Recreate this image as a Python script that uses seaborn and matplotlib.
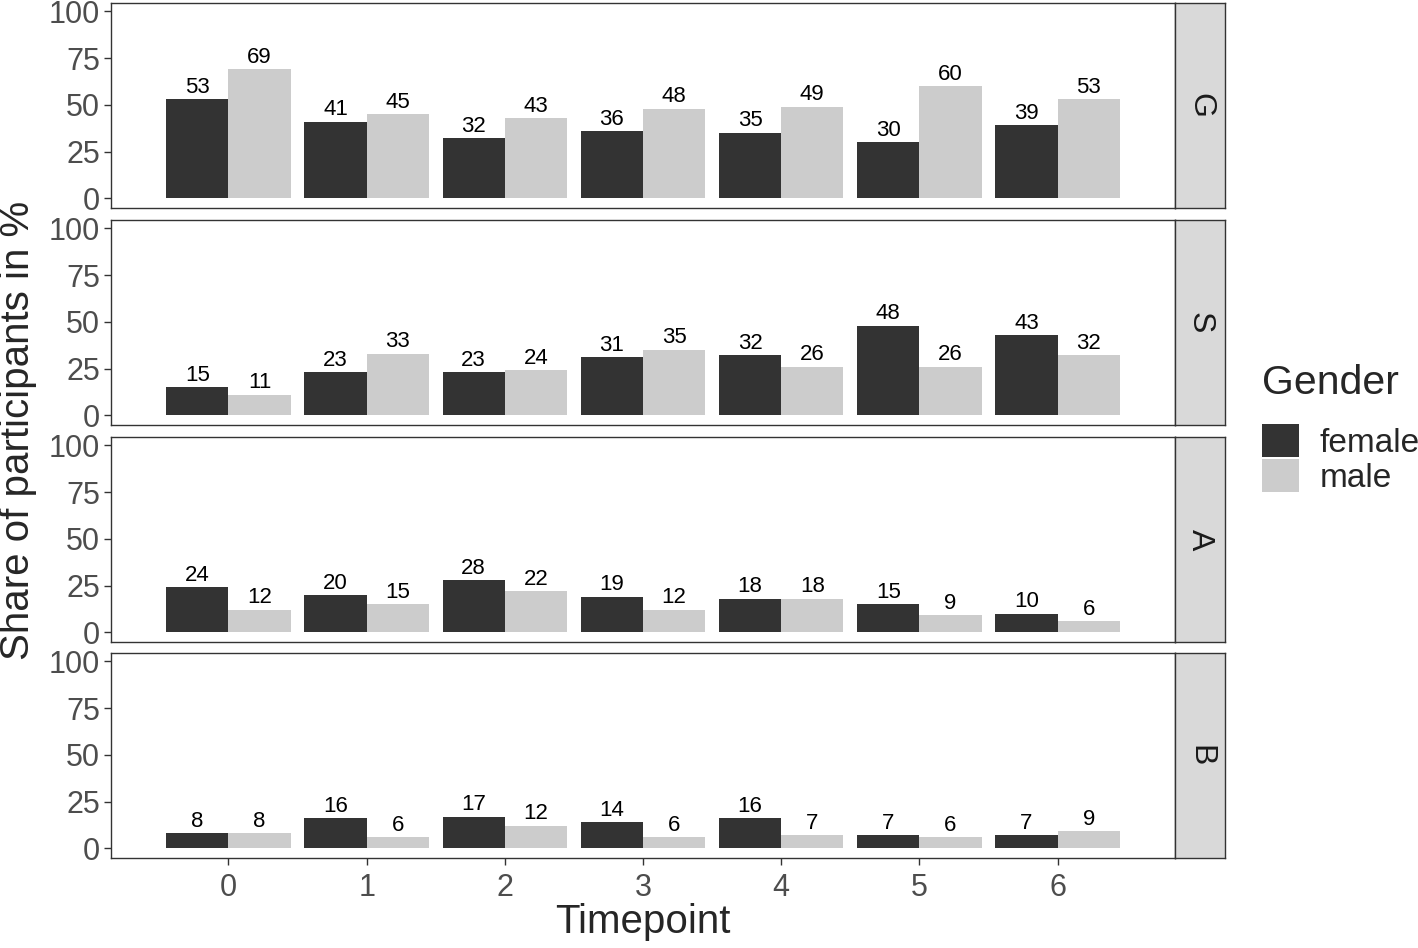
import numpy as np
import pandas as pd
import matplotlib
matplotlib.use("Agg")
import matplotlib.pyplot as plt
from matplotlib.patches import Patch
import seaborn as sns

# data
timepoints = ["0", "1", "2", "3", "4", "5", "6"]
panels = ["G", "S", "A", "B"]
genders = ["female", "male"]

g_female = [53, 41, 32, 36, 35, 30, 39]
g_male = [69, 45, 43, 48, 49, 60, 53]
s_female = [15, 23, 23, 31, 32, 48, 43]
s_male = [11, 33, 24, 35, 26, 26, 32]
a_female = [24, 20, 28, 19, 18, 15, 10]
a_male = [12, 15, 22, 12, 18, 9, 6]
b_female = [8, 16, 17, 14, 16, 7, 7]
b_male = [8, 6, 12, 6, 7, 6, 9]

values = {
    "G": (g_female, g_male),
    "S": (s_female, s_male),
    "A": (a_female, a_male),
    "B": (b_female, b_male),
}

rows = []
for p in panels:
    fem, mal = values[p]
    for t, f, m in zip(timepoints, fem, mal):
        rows.append({"panel": p, "Timepoint": t, "Gender": "female", "share": f})
        rows.append({"panel": p, "Timepoint": t, "Gender": "male", "share": m})
df = pd.DataFrame(rows)

sns.set_style("white")
plt.rcParams["font.family"] = ["Liberation Sans", "DejaVu Sans"]

palette = {"female": "#333333", "male": "#cccccc"}
edge = "#333333"

W, H = 1418, 948
fig = plt.figure(figsize=(W / 100, H / 100), dpi=100)

left, right = 111, 1175
strip_w = 50
tops = [3, 220, 437, 653]
ph = 205

for i, p in enumerate(panels):
    top = tops[i]
    ax = fig.add_axes([left / W, 1 - (top + ph) / H, (right - left) / W, ph / H])
    sub = df[df["panel"] == p]
    sns.barplot(data=sub, x="Timepoint", y="share", hue="Gender",
                order=timepoints, hue_order=genders, palette=palette,
                width=0.9, gap=0, saturation=1, errorbar=None, legend=False,
                linewidth=0, ax=ax)
    for c in ax.containers:
        ax.bar_label(c, fmt="%d", padding=1, fontsize=16, color="black")
    ax.set_xlim(-0.85, 6.85)
    ax.set_ylim(-5.2, 104.5)
    ax.set_yticks([0, 25, 50, 75, 100])
    ax.set_xlabel("")
    ax.set_ylabel("")
    ax.tick_params(axis="both", length=5, width=1, color=edge,
                   labelsize=22, labelcolor="#4d4d4d", pad=3, left=True, bottom=True)
    ax.tick_params(axis="x", pad=6)
    if i < 3:
        ax.tick_params(axis="x", bottom=False, labelbottom=False)
    for s in ax.spines.values():
        s.set_visible(True)
        s.set_color(edge)
        s.set_linewidth(1)

    # facet strip on the right
    sax = fig.add_axes([right / W, 1 - (top + ph) / H, strip_w / W, ph / H])
    sax.set_facecolor("#d9d9d9")
    sax.set_xticks([])
    sax.set_yticks([])
    for s in sax.spines.values():
        s.set_color(edge)
        s.set_linewidth(1)
    sax.text(0.5, 0.5, p, rotation=-90, ha="center", va="center",
             fontsize=23, color="#1a1a1a", transform=sax.transAxes)

fig.text(18 / W, 1 - 430 / H, "Share of participants in %", rotation=90,
         ha="center", va="center", fontsize=29)
fig.text((left + right) / 2 / W, 1 - 922 / H, "Timepoint",
         ha="center", va="center", fontsize=29)

handles = [Patch(facecolor=palette[g], edgecolor="none", label=g) for g in genders]
leg = fig.legend(handles=handles, title="Gender", loc="upper left",
                 bbox_to_anchor=(1262 / W, 1 - 364 / H), frameon=False,
                 fontsize=24, title_fontsize=29.5, handlelength=1.12,
                 handleheight=1.12, labelspacing=0.02, handletextpad=0.6,
                 borderaxespad=0, borderpad=0)
leg._legend_box.align = "left"
leg._legend_box.sep = 16

fig.savefig("out.png", dpi=100)
